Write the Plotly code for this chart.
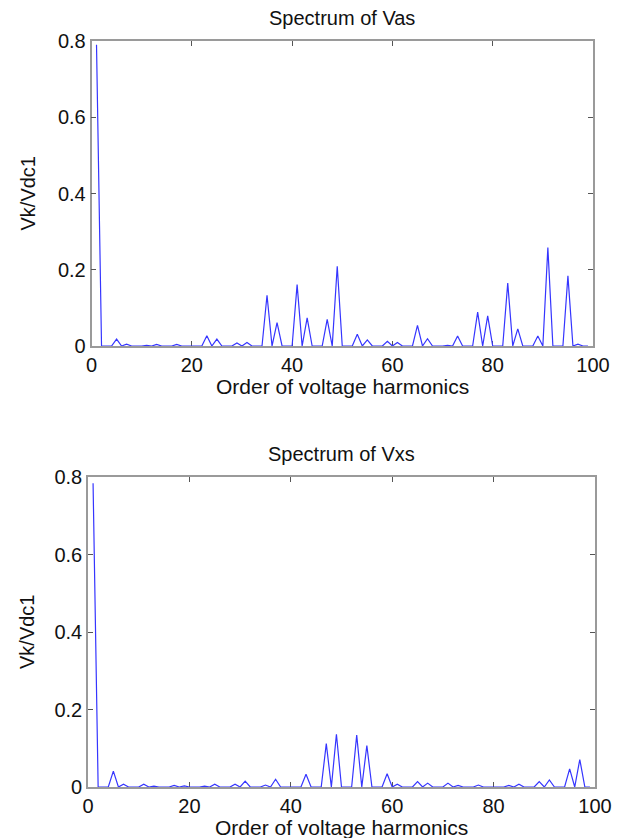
import plotly.graph_objects as go

W, H = 627, 838

harmonic_order = list(range(1, 100))

vas_spectrum = [
    0.790, 0, 0, 0, 0.018, 0, 0.005, 0, 0, 0,
    0.002, 0, 0.004, 0, 0, 0, 0.004, 0, 0, 0,
    0, 0, 0.027, 0, 0.018, 0, 0, 0, 0.008, 0,
    0.009, 0, 0, 0, 0.133, 0, 0.061, 0, 0, 0,
    0.161, 0, 0.074, 0, 0, 0, 0.070, 0, 0.209, 0,
    0, 0, 0.031, 0, 0.016, 0, 0, 0, 0.012, 0,
    0.009, 0, 0, 0, 0.054, 0, 0.019, 0, 0, 0,
    0.002, 0, 0.026, 0, 0, 0, 0.089, 0, 0.079, 0,
    0, 0, 0.165, 0, 0.045, 0, 0, 0, 0.026, 0,
    0.258, 0, 0, 0, 0.184, 0, 0.005, 0, 0,
]

vxs_spectrum = [
    0.784, 0, 0, 0, 0.041, 0, 0.007, 0, 0, 0,
    0.007, 0, 0.002, 0, 0, 0, 0.004, 0, 0.003, 0,
    0, 0, 0.002, 0, 0.007, 0, 0, 0, 0.007, 0,
    0.015, 0, 0, 0, 0.005, 0, 0.020, 0, 0, 0,
    0, 0, 0.033, 0, 0, 0, 0.112, 0, 0.136, 0,
    0, 0, 0.134, 0, 0.107, 0, 0, 0, 0.034, 0,
    0.007, 0, 0, 0, 0.014, 0, 0.010, 0, 0, 0,
    0.010, 0, 0.004, 0, 0, 0, 0.005, 0, 0, 0,
    0, 0, 0.004, 0, 0.007, 0, 0, 0, 0.014, 0,
    0.018, 0, 0, 0, 0.047, 0, 0.071, 0, 0,
]

x_ticks = [0, 20, 40, 60, 80, 100]
x_tick_labels = ["0", "20", "40", "60", "80", "100"]
y_ticks = [0, 0.2, 0.4, 0.6, 0.8]
y_tick_labels = ["0", "0.2", "0.4", "0.6", "0.8"]

titles = ["Spectrum of Vas", "Spectrum of Vxs"]
x_title = "Order of voltage harmonics"
y_title = "Vk/Vdc1"

FONT = "Liberation Sans, Arial, sans-serif"
LINE_COLOR = "#3535ff"
AXIS_COLOR = "#9a9a9a"


def px_x(p):
    return p / W


def px_y(p):
    return 1 - p / H


# pixel boxes of the two axes: (left, right, top, bottom)
boxes = [(91.5, 593, 41, 346), (88, 595, 477, 787)]

fig = go.Figure()
fig.add_trace(go.Scatter(x=harmonic_order, y=vas_spectrum, mode="lines",
                         line=dict(color=LINE_COLOR, width=1.2),
                         xaxis="x", yaxis="y", showlegend=False))
fig.add_trace(go.Scatter(x=harmonic_order, y=vxs_spectrum, mode="lines",
                         line=dict(color=LINE_COLOR, width=1.2),
                         xaxis="x2", yaxis="y2", showlegend=False))

axis_common = dict(
    showgrid=False, zeroline=False, showline=True, linecolor=AXIS_COLOR,
    linewidth=1.6, mirror="ticks", ticks="inside", ticklen=5, tickwidth=1,
    tickcolor="#555555", layer="below traces",
    tickfont=dict(family=FONT, size=20, color="#111111"),
)

layout = dict(
    width=W, height=H, margin=dict(l=0, r=0, t=0, b=0),
    paper_bgcolor="white", plot_bgcolor="white",
    annotations=[],
)

for i, (l, r, t, b) in enumerate(boxes):
    sx = "" if i == 0 else str(i + 1)
    layout["xaxis" + sx] = dict(
        axis_common, domain=[px_x(l), px_x(r)], range=[0, 100],
        tickvals=x_ticks, ticktext=x_tick_labels,
        anchor="y" + sx, automargin=False,
    )
    layout["yaxis" + sx] = dict(
        axis_common, domain=[px_y(b), px_y(t)], range=[0, 0.8],
        tickvals=y_ticks, ticktext=y_tick_labels,
        anchor="x" + sx, automargin=False,
    )
    cx = (l + r) / 2
    layout["annotations"].append(dict(
        text=titles[i], x=px_x(cx), y=px_y(t - 23), xref="paper", yref="paper",
        xanchor="center", yanchor="middle", showarrow=False,
        font=dict(family=FONT, size=20, color="#111111")))
    layout["annotations"].append(dict(
        text=x_title, x=px_x(cx), y=px_y(b + 40), xref="paper", yref="paper",
        xanchor="center", yanchor="middle", showarrow=False,
        font=dict(family=FONT, size=21, color="#111111")))
    layout["annotations"].append(dict(
        text=y_title, x=px_x(27), y=px_y((t + b) / 2), xref="paper", yref="paper",
        xanchor="center", yanchor="middle", showarrow=False, textangle=-90,
        font=dict(family=FONT, size=20, color="#111111")))

fig.update_layout(**layout)
fig.write_html("out.html")
